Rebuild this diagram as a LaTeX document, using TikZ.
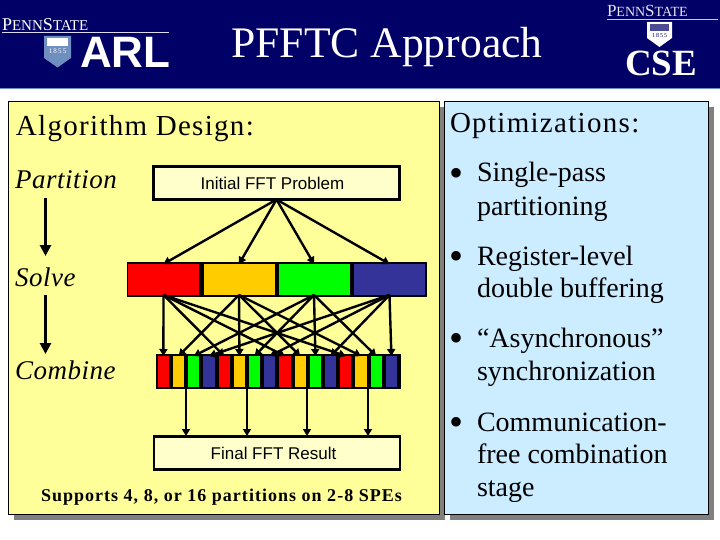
\documentclass[tikz,border=0pt]{standalone}
\usepackage{fontspec}
\setmainfont{Liberation Serif}
\setsansfont{Liberation Sans}
\usetikzlibrary{arrows.meta}
\definecolor{navy}{HTML}{000066}
\definecolor{panelY}{HTML}{FFFF99}
\definecolor{panelB}{HTML}{CCECFF}
\definecolor{boxY}{HTML}{FFFFCC}
\definecolor{shad}{HTML}{808080}
\definecolor{cA}{HTML}{FF0000}
\definecolor{cB}{HTML}{FFCC00}
\definecolor{cC}{HTML}{00FF00}
\definecolor{cD}{HTML}{333399}
\definecolor{logoB}{HTML}{6F8FC0}
\tikzset{
 txt/.style={anchor=base west,inner sep=0pt,outer sep=0pt},
 lbl/.style={txt,font=\fontsize{29}{29}\selectfont\addfontfeature{LetterSpace=4.5}},
 phase/.style={txt,font=\fontsize{27}{27}\selectfont\itshape\addfontfeature{LetterSpace=2}},
 bul/.style={txt,font=\fontsize{28}{28}\selectfont},
 dotm/.style={txt,font=\fontsize{40}{40}\selectfont},
 flow/.style={draw=black,line width=2.4pt,-{Triangle[length=7pt,width=8pt]}},
 bigflow/.style={draw=black,line width=3pt,-{Triangle[length=11pt,width=11pt]}},
 probbox/.style={draw=black,line width=2.6pt,fill=boxY,minimum width=246pt,minimum height=33pt,inner sep=0pt,outer sep=0pt,font=\sffamily\fontsize{17}{17}\selectfont},
 bigcell/.style={minimum width=71pt,minimum height=31pt,inner sep=0pt,outer sep=0pt},
 smallcell/.style={minimum width=11.3pt,minimum height=31pt,inner sep=0pt,outer sep=0pt},
 bar/.style={fill=black,inner sep=0pt,outer sep=0pt},
 panel/.style={draw=black,line width=0.8pt,inner sep=0pt,outer sep=0pt},
}
\begin{document}
\begin{tikzpicture}[x=1pt,y=-1pt]
\useasboundingbox (0,0) rectangle (720,540);
\fill[white] (0,0) rectangle (720,540);
% header
\fill[navy] (0,0) rectangle (720,88);
\fill[logoB] (0,88) rectangle (720,89);
\node[anchor=base,inner sep=0pt,text=white,font=\fontsize{43.6}{44}\selectfont] (title) at (387,57.5) {PFFTC Approach};
% left logo
\node[txt,text=white,font=\fontsize{18}{18}\selectfont] (ps1) at (2,31) {P\fontsize{15}{15}\selectfont ENN\fontsize{18}{18}\selectfont S\fontsize{15}{15}\selectfont TATE};
\draw[white!85!navy,line width=1pt] (2,33) -- (169,33);
\fill[logoB] (44,36) -- (71,36) -- (71,58) -- (57.5,67.5) -- (44,58) -- cycle;
\fill[white] (47,38) -- (68,38) -- (68,46) -- (47,46) -- cycle;
\node[anchor=base,inner sep=0pt,text=white,font=\fontsize{7}{7}\selectfont] (yr1) at (57.5,54) {1\,8\,5\,5};
\node[txt,text=white,font=\sffamily\bfseries\fontsize{44}{44}\selectfont] (arl) at (80,68) {ARL};
% right logo
\node[txt,text=white!90!navy,font=\fontsize{17}{17}\selectfont] (ps2) at (607,17) {P\fontsize{14}{14}\selectfont ENN\fontsize{17}{17}\selectfont S\fontsize{14}{14}\selectfont TATE};
\draw[white!80!navy,line width=1pt] (607,19.5) -- (718,19.5);
\fill[white] (647,22) -- (672,22) -- (672,38) -- (659.5,47) -- (647,38) -- cycle;
\fill[navy!70!white] (650,24) -- (669,24) -- (669,31) -- (650,31) -- cycle;
\node[anchor=base,inner sep=0pt,text=navy,font=\fontsize{6}{6}\selectfont] (yr2) at (659.5,37.5) {1\,8\,5\,5};
\node[txt,text=white,font=\bfseries\fontsize{37}{37}\selectfont] (cse) at (625,76) {CSE};
% panels
\fill[shad] (14,107) rectangle (445,520);
\fill[shad] (450,107) rectangle (714,520);
\path[panel,fill=panelY] (8,101) rectangle (439,514);
\path[panel,fill=panelB] (444,101) rectangle (708,514);
% left panel text
\node[lbl] (algo) at (16,136) {Algorithm Design:};
\node[phase] (part) at (15,189) {Partition};
\node[phase] (solve) at (15,286) {Solve};
\node[phase] (comb) at (15,379) {Combine};
\draw[bigflow] (45.5,198) -- (45.5,256);
\draw[bigflow] (45.5,295) -- (45.5,354);
% boxes
\node[probbox] (init) at (276.5,183) {\hspace*{-8pt}Initial FFT Problem};
\node[probbox] (final) at (277,453) {\hspace*{-7pt}Final FFT Result};
\node[bar,minimum width=300pt,minimum height=35pt] (bigbar) at (277,279.5) {};
\node[bar,minimum width=245pt,minimum height=35pt] (smallbar) at (278.5,371.5) {};
\foreach \i/\c/\x in {1/cA/163.5,2/cB/239,3/cC/314,4/cD/389.5}
  \node[bigcell,fill=\c] (b\i) at (\x,279.5) {};
\foreach \i/\c in {1/cA,2/cB,3/cC,4/cD,5/cA,6/cB,7/cC,8/cD,9/cA,10/cB,11/cC,12/cD,13/cA,14/cB,15/cC,16/cD}
  \node[smallcell,fill=\c] (c\i) at ({163.4+15.2*(\i-1)},371.5) {};
% connectors
\foreach \i in {1,2,3,4} \draw[flow] (init.south) -- (b\i.north);
\foreach \i in {1,5,9,13} \draw[flow] (b1.south) -- (c\i.north);
\foreach \i in {2,6,10,14} \draw[flow] (b2.south) -- (c\i.north);
\foreach \i in {3,7,11,15} \draw[flow] (b3.south) -- (c\i.north);
\foreach \i in {4,8,12,16} \draw[flow] (b4.south) -- (c\i.north);
\foreach \n/\x in {1/186,2/247,3/307,4/368}{
  \coordinate (r\n) at (\x,436);
  \draw[flow] (r\n |- smallbar.south) -- (r\n);
}
\node[txt,font=\bfseries\fontsize{18}{18}\selectfont\addfontfeature{LetterSpace=5.7}] (supports) at (41,501) {Supports 4, 8, or 16 partitions on 2-8 SPEs};
% right panel
\node[lbl] (opt) at (450,133) {Optimizations:};
\foreach \n/\y in {1/187,2/269,3/351,4/435}
  \node[dotm] (d\n) at (449,\y) {•};
\foreach \n/\y/\t in {a/182/Single-pass,b/215/partitioning,c/265/Register-level,d/297/double buffering,e/347/“Asynchronous”,f/380/synchronization,g/431/Communication-,h/463/free combination,i/496/stage}
  \node[bul] (t\n) at (477,\y) {\t};
\end{tikzpicture}
\end{document}
